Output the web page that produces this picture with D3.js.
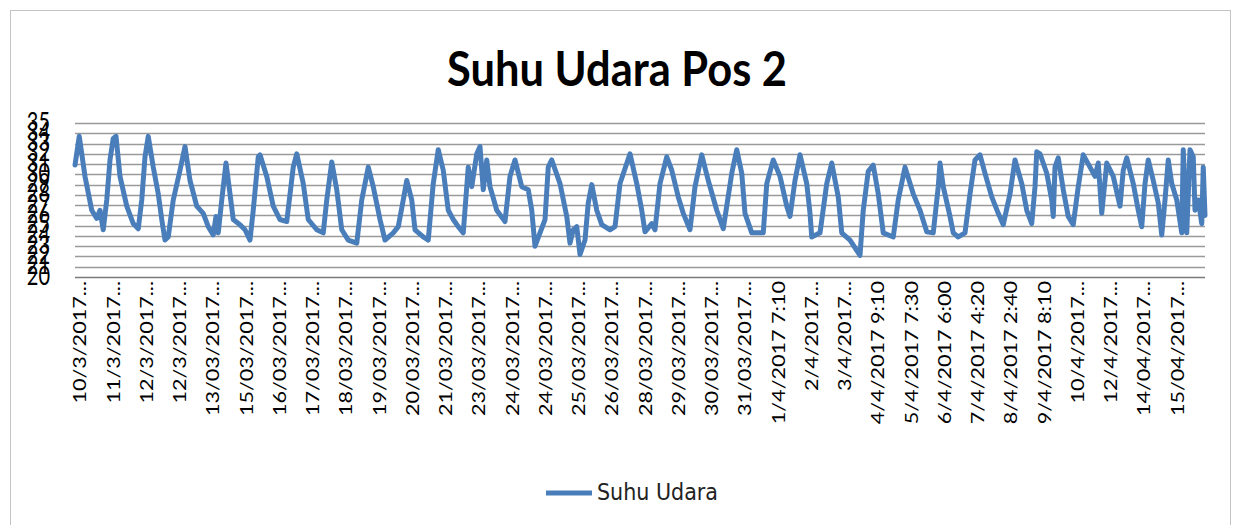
<!DOCTYPE html>
<html>
<head>
<meta charset="utf-8">
<script src="https://cdn.jsdelivr.net/npm/d3@7"></script>
<style>
  body { margin: 0; background: #fff; }
  svg { display: block; }
</style>
</head>
<body>
<script>
'use strict';

// chart size
let W = 1234, H = 525;

// plot area (the picture is a bit stretched vertically, so text gets a y scale)
let plot = { left: 75, right: 1205, top: 123, bottom: 277 };
let textStretch = 1.2;

let lineColor = "#4a7ebb";

// air temperature readings, [sample number, degC]
let suhu = [
  [0, 30.9], [17, 33.7], [40, 29.8], [67, 26.5], [87, 25.7], [100, 26.5], [113, 24.6],
  [127, 27.5], [140, 31.4], [153, 33.5], [164, 33.7], [180, 29.8], [207, 26.9], [233, 25.2],
  [253, 24.7], [267, 27.5], [280, 31.7], [293, 33.7], [313, 30.7], [333, 28.1], [347, 25.6],
  [360, 23.6], [373, 23.9], [393, 27.5], [420, 30.4], [440, 32.7], [460, 29.4], [487, 26.9],
  [513, 26.2], [533, 24.9], [553, 24.1], [564, 25.9], [573, 24.3], [587, 27.5], [604, 31.1],
  [620, 28.1], [633, 25.6], [660, 25.1], [680, 24.6], [700, 23.6], [713, 26.5], [733, 31.7],
  [740, 31.9], [767, 29.8], [793, 26.9], [820, 25.6], [847, 25.4], [873, 30.7], [887, 32.0],
  [913, 29.1], [933, 25.6], [967, 24.6], [993, 24.3], [1007, 27.5], [1027, 31.2], [1047, 28.5],
  [1067, 24.6], [1093, 23.6], [1127, 23.3], [1147, 27.5], [1173, 30.7], [1193, 28.8],
  [1220, 25.6], [1240, 23.6], [1273, 24.3], [1293, 24.9], [1313, 27.5], [1327, 29.4],
  [1347, 27.5], [1360, 24.6], [1393, 23.9], [1413, 23.6], [1433, 29.1], [1453, 32.4],
  [1473, 30.4], [1493, 26.5], [1513, 25.6], [1533, 24.9], [1553, 24.3], [1573, 30.7],
  [1587, 28.8], [1607, 32.0], [1620, 32.7], [1633, 28.5], [1647, 31.4], [1660, 28.8],
  [1687, 26.5], [1720, 25.4], [1740, 29.8], [1760, 31.4], [1787, 28.8], [1813, 28.5],
  [1827, 26.5], [1840, 23.0], [1860, 24.3], [1880, 25.6], [1893, 30.7], [1907, 31.4],
  [1940, 29.1], [1967, 25.9], [1980, 23.3], [1993, 24.6], [2007, 24.9], [2020, 22.2],
  [2040, 23.6], [2053, 27.2], [2067, 29.0], [2087, 26.5], [2107, 25.1], [2140, 24.6],
  [2160, 24.9], [2180, 29.1], [2220, 32.0], [2247, 29.1], [2267, 26.5], [2280, 24.4],
  [2307, 25.2], [2320, 24.6], [2340, 29.1], [2367, 31.7], [2387, 30.4], [2413, 27.8],
  [2433, 26.2], [2460, 24.6], [2480, 28.8], [2507, 31.9], [2533, 29.4], [2567, 26.5],
  [2593, 24.7], [2627, 30.1], [2647, 32.4], [2667, 30.1], [2680, 26.2], [2707, 24.3],
  [2753, 24.3], [2767, 29.1], [2793, 31.4], [2820, 29.8], [2847, 26.9], [2860, 25.9],
  [2880, 29.4], [2900, 31.9], [2927, 29.1], [2940, 26.2], [2947, 23.9], [2980, 24.3],
  [3007, 29.1], [3027, 31.1], [3053, 27.8], [3067, 24.3], [3100, 23.6], [3140, 22.1],
  [3153, 26.5], [3173, 30.3], [3193, 30.9], [3213, 28.1], [3233, 24.3], [3273, 23.9],
  [3293, 27.5], [3320, 30.7], [3353, 28.1], [3380, 26.5], [3407, 24.4], [3433, 24.3],
  [3453, 28.8], [3460, 31.1], [3473, 28.8], [3500, 25.9], [3513, 24.3], [3533, 23.9],
  [3560, 24.3], [3580, 28.1], [3600, 31.4], [3620, 31.9], [3640, 30.1], [3667, 27.8],
  [3693, 26.2], [3713, 25.1], [3740, 28.1], [3760, 31.4], [3787, 29.1], [3807, 26.5],
  [3827, 25.2], [3840, 28.8], [3847, 32.2], [3860, 32.0], [3887, 30.1], [3907, 27.5],
  [3913, 25.9], [3920, 30.7], [3933, 31.6], [3953, 28.5], [3973, 25.9], [3993, 25.1],
  [4013, 28.8], [4033, 31.9], [4060, 30.7], [4080, 29.8], [4093, 31.1], [4107, 26.2],
  [4127, 31.1], [4153, 29.8], [4180, 26.9], [4193, 30.4], [4207, 31.6], [4233, 29.1],
  [4253, 26.5], [4267, 24.9], [4280, 29.1], [4293, 31.4], [4313, 29.4], [4333, 27.2],
  [4347, 24.1], [4360, 27.5], [4373, 31.4], [4387, 29.1], [4407, 27.5], [4427, 24.3],
  [4433, 32.4], [4447, 24.3], [4460, 32.4], [4473, 31.7], [4480, 26.5], [4493, 27.5],
  [4507, 25.2], [4513, 30.7], [4520, 26.0]
];

// category labels, one every 133 samples starting at sample 20
let labels = [
  "10/3/2017...", "11/3/2017...", "12/3/2017...", "12/3/2017...", "13/03/2017...",
  "15/03/2017...", "16/03/2017...", "17/03/2017...", "18/03/2017...", "19/03/2017...",
  "20/03/2017...", "21/03/2017...", "23/03/2017...", "24/03/2017...", "24/03/2017...",
  "25/03/2017...", "26/03/2017...", "28/03/2017...", "29/03/2017...", "30/03/2017...",
  "31/03/2017...", "1/4/2017 7:10", "2/4/2017...", "3/4/2017...", "4/4/2017 9:10",
  "5/4/2017 7:30", "6/4/2017 6:00", "7/4/2017 4:20", "8/4/2017 2:40", "9/4/2017 8:10",
  "10/4/2017...", "12/4/2017...", "14/04/2017...", "15/04/2017..."
];
let labelStart = 20, labelStep = 133;

let svgContainer = d3.select("body")
  .append("svg")
  .attr("width", W)
  .attr("height", H)
  .style("font-family", "Lato, 'Open Sans', sans-serif");

// outer chart border
svgContainer.append("rect")
  .attr("x", 10.5)
  .attr("y", 10.5)
  .attr("width", 1220)
  .attr("height", 540)
  .attr("fill", "none")
  .attr("stroke", "#c4c4c4");

let xScale = d3.scaleLinear()
  .domain([0, 4520])
  .range([plot.left, plot.right]);

let yScale = d3.scaleLinear()
  .domain([20, 35])
  .range([plot.bottom, plot.top]);

drawGrid();
drawYLabels();
drawXLabels();
drawLine();
drawTitle();
drawLegend();

// horizontal gridlines, one per degree
function drawGrid() {
  let ticks = d3.range(20, 36, 1);
  svgContainer.append("g")
    .selectAll("line")
    .data(ticks)
    .enter()
    .append("line")
    .attr("x1", plot.left)
    .attr("x2", plot.right)
    .attr("y1", d => Math.round(yScale(d)) + 0.5)
    .attr("y2", d => Math.round(yScale(d)) + 0.5)
    .attr("stroke", d => d == 20 ? "#7a7a7a" : "#9a9a9a")
    .attr("stroke-width", 1.6);
}

// y axis numbers (they overlap, like in the original)
function drawYLabels() {
  let yAxis = d3.axisLeft(yScale).ticks(15).tickSize(0).tickFormat(d3.format("d"));
  let g = svgContainer.append("g")
    .attr("transform", "translate(50, 0)")
    .call(yAxis);
  g.select(".domain").remove();
  // each tick group is already moved to its value, only shift and stretch the text
  g.selectAll("text")
    .attr("x", 0)
    .attr("dy", null)
    .attr("transform", "translate(0,7) scale(1,1.3)")
    .style("font-size", "20px")
    .style("font-family", "Lato, sans-serif")
    .attr("fill", "#000");
}

// rotated category labels under the axis
function drawXLabels() {
  svgContainer.append("g")
    .selectAll("text")
    .data(labels)
    .enter()
    .append("text")
    .attr("transform", (d, k) => "translate(" + xScale(labelStart + k * labelStep) + ",281) scale(1," + textStretch + ") rotate(-90)")
    .attr("dy", "0.35em")
    .style("text-anchor", "end")
    .style("font-size", "18px")
    .attr("fill", "#000")
    .text(d => d);
}

// temperature line
function drawLine() {
  let line = d3.line()
    .x(d => xScale(d[0]))
    .y(d => yScale(d[1]));

  svgContainer.append("path")
    .datum(suhu)
    .attr("d", line)
    .attr("fill", "none")
    .attr("stroke", lineColor)
    .attr("stroke-width", 5)
    .attr("stroke-linejoin", "round")
    .attr("stroke-linecap", "round");
}

function drawTitle() {
  svgContainer.append("text")
    .attr("transform", "translate(617,86) scale(1," + textStretch + ")")
    .style("text-anchor", "middle")
    .style("font-size", "40px")
    .style("font-weight", "bold")
    .attr("textLength", 340)
    .attr("lengthAdjust", "spacingAndGlyphs")
    .attr("fill", "#000")
    .text("Suhu Udara Pos 2");
}

function drawLegend() {
  svgContainer.append("line")
    .attr("x1", 546)
    .attr("x2", 592)
    .attr("y1", 493)
    .attr("y2", 493)
    .attr("stroke", lineColor)
    .attr("stroke-width", 5);

  svgContainer.append("text")
    .attr("transform", "translate(597,500) scale(1," + textStretch + ")")
    .style("font-size", "19px")
    .style("font-family", "'DejaVu Sans', sans-serif")
    .attr("textLength", 121)
    .attr("lengthAdjust", "spacingAndGlyphs")
    .attr("fill", "#222")
    .text("Suhu Udara");
}
</script>
</body>
</html>
